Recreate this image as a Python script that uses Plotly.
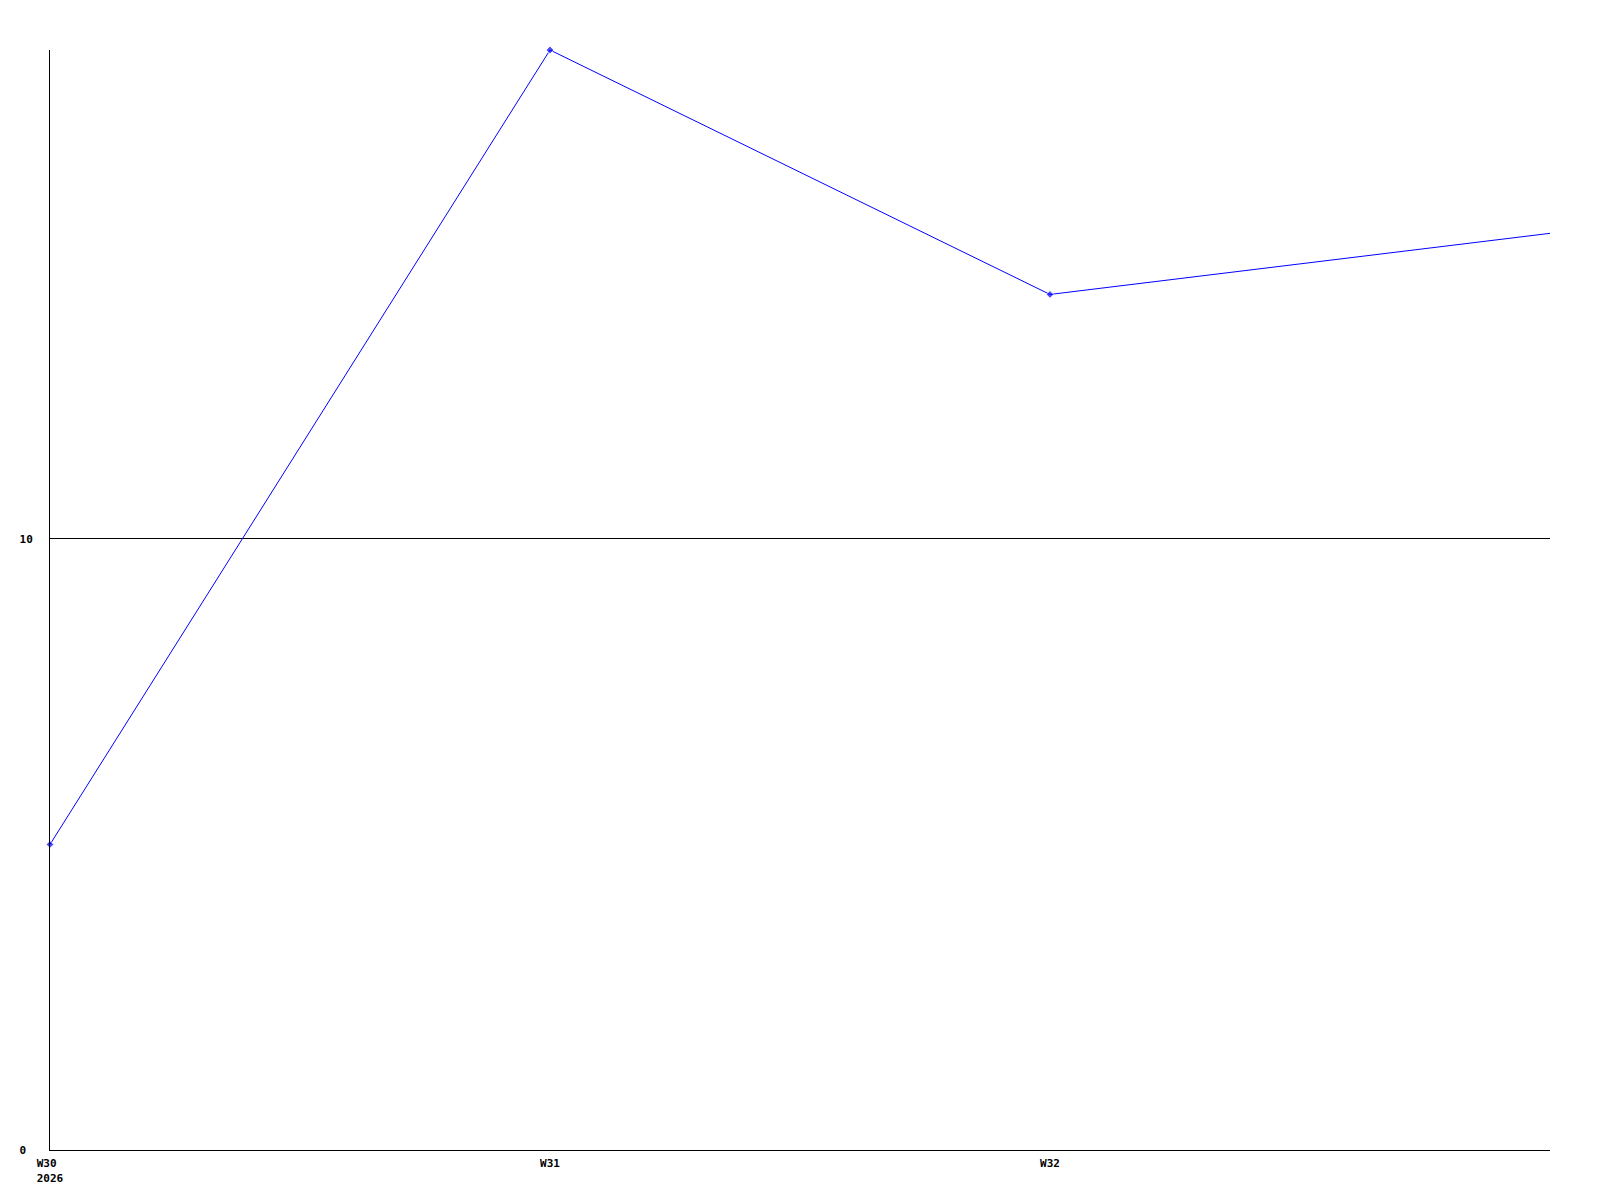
import plotly.graph_objects as go

weeks = ["W30\u00a0<br>2026", "W31", "W32", "W33"]
week_pos = [0, 1, 2, 3]
values = [5, 18, 14, 15]
marker_sizes = [6, 6, 6, 0]
y_ticks = [0, 10]
y_labels = ["0\u00a0", "10"]

fig = go.Figure()
fig.add_trace(go.Scatter(
    x=week_pos, y=values, mode="lines+markers",
    line=dict(color="#0000ff", width=1),
    marker=dict(symbol="diamond", size=marker_sizes, color="#0000ff"),
    cliponaxis=False, showlegend=False,
))

font = dict(family="DejaVu Sans Mono", size=11, color="black", weight="bold")
fig.update_layout(
    width=1600, height=1200,
    margin=dict(l=42, r=58, t=42, b=58),
    paper_bgcolor="white", plot_bgcolor="white",
    xaxis=dict(range=[0, 3], tickvals=week_pos[:3], ticktext=weeks[:3],
               showgrid=False, zeroline=False, showline=True, linecolor="black",
               linewidth=1, ticks="", tickfont=font, ticklabelstandoff=3),
    yaxis=dict(range=[0, 18], tickvals=y_ticks, ticktext=y_labels,
               showgrid=True, gridcolor="black", gridwidth=1, zeroline=False,
               showline=True, linecolor="black", linewidth=1, ticks="",
               ticklabelstandoff=14, tickfont=font),
)
fig.write_html("out.html")
